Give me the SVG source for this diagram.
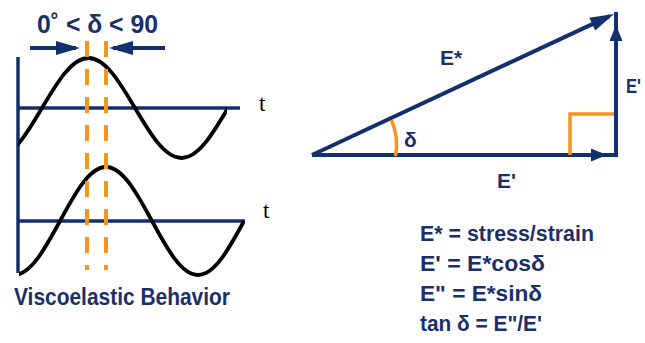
<svg xmlns="http://www.w3.org/2000/svg" xmlns:xlink="http://www.w3.org/1999/xlink" width="645" height="343" viewBox="0 0 645 343">
<style>
.ln{stroke:#13306e;stroke-width:4;fill:none}
.ax{stroke:#13306e;stroke-width:3.5;fill:none}
.sine{stroke:#000;stroke-width:3.8;fill:none}
.or{stroke:#f7941d;stroke-width:3.5;fill:none}
.dash{stroke:#f7941d;stroke-width:4;fill:none;stroke-dasharray:16 12}
.hd{fill:#13306e}
.lbl{font-family:"Liberation Sans",Arial,sans-serif;font-weight:bold;fill:#1b2f6a}
.t{font-family:"Liberation Serif","Times New Roman",serif;font-size:23px;fill:#000}
</style>
<defs>
<path id="head" d="M0,0 L-16,-6.5 L-16,6.5 z"/>
<path id="headL" d="M0,0 L-24,-7 L-24,7 z"/>
<clipPath id="c1"><rect x="18" y="40" width="209" height="140"/></clipPath>
<clipPath id="c2"><rect x="19" y="150" width="226" height="140"/></clipPath>
</defs>
<g id="waves">
<line class="ax" x1="18" y1="57" x2="18" y2="273"/>
<line class="ax" x1="18" y1="108" x2="240" y2="108"/>
<line class="ax" x1="18" y1="221" x2="245" y2="221"/>
<path class="sine" clip-path="url(#c1)" d="M-4.5,158 C12.33,158 26.82,133.64 42,108 C57.18,82.36 71.67,58 88.5,58 C105.33,58 119.82,82.36 135,108 C150.18,133.64 164.67,158 181.5,158 C198.33,158 212.82,133.64 228,108"/>
<path class="sine" clip-path="url(#c2)" d="M14,275 C30.65,275 44.98,248.69 60,221 C75.02,193.31 89.35,167 106,167 C122.65,167 136.98,193.31 152,221 C167.02,248.69 181.35,275 198,275 C214.65,275 228.98,248.69 244,221"/>
<line class="dash" x1="87" y1="41" x2="87" y2="270"/>
<line class="dash" x1="106" y1="41" x2="106" y2="270"/>
</g>
<g id="phase-label">
<text class="lbl" x="37" y="33" font-size="25" textLength="121" lengthAdjust="spacingAndGlyphs">0˚ &lt; δ &lt; 90</text>
<line class="ln" x1="30" y1="48" x2="76" y2="48" stroke-width="3.5"/>
<use href="#headL" class="hd" transform="translate(80,48)"/>
<line class="ln" x1="165" y1="48" x2="113" y2="48" stroke-width="3.5"/>
<use href="#headL" class="hd" transform="translate(109,48) rotate(180)"/>
</g>
<g id="t-labels">
<text class="t" x="259" y="111">t</text>
<text class="t" x="263" y="218">t</text>
</g>
<text class="lbl" x="14" y="305" font-size="23" textLength="216" lengthAdjust="spacingAndGlyphs" fill="#1d3a7a">Viscoelastic Behavior</text>
<g id="triangle">
<line class="ln" x1="312" y1="155" x2="618" y2="155"/>
<use href="#head" class="hd" transform="translate(607,155)"/>
<line class="ln" x1="616" y1="157" x2="616" y2="12"/>
<use href="#head" class="hd" transform="translate(616,25) rotate(-90)"/>
<line class="ln" x1="312" y1="155" x2="609.5" y2="16.1"/>
<use href="#headL" class="hd" transform="translate(614,14) rotate(-25)"/>
<polyline class="or" points="570,155 570,114 614,114"/>
<path class="or" d="M391.5,120 Q399,138 395.5,156"/>
</g>
<g id="triangle-labels">
<text class="lbl" x="440" y="65" font-size="21">E*</text>
<text class="lbl" x="404" y="147" font-size="21">δ</text>
<text class="lbl" x="497" y="188" font-size="21">E'</text>
<text class="lbl" x="626" y="93" font-size="21" textLength="15" lengthAdjust="spacingAndGlyphs">E'</text>
</g>
<g id="equations">
<text class="lbl" x="420" y="241" font-size="22" textLength="174" lengthAdjust="spacingAndGlyphs">E* = stress/strain</text>
<text class="lbl" x="420" y="271" font-size="22" textLength="125" lengthAdjust="spacingAndGlyphs">E' = E*cosδ</text>
<text class="lbl" x="420" y="301" font-size="22" textLength="122" lengthAdjust="spacingAndGlyphs">E" = E*sinδ</text>
<text class="lbl" x="420" y="331" font-size="22" textLength="122" lengthAdjust="spacingAndGlyphs">tan δ = E"/E'</text>
</g>
</svg>
